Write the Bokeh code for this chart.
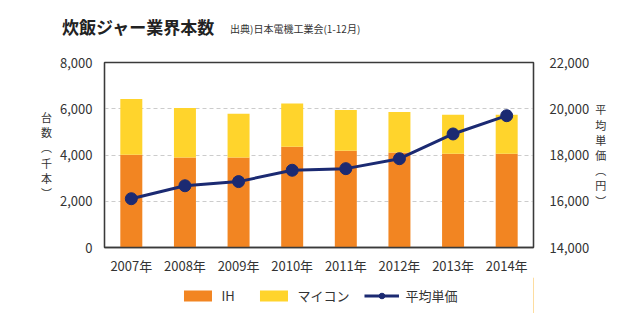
from bokeh.plotting import figure
from bokeh.layouts import column
from bokeh.models import (Range1d, LinearAxis, FixedTicker, Legend, LegendItem,
                          ColumnDataSource, NumeralTickFormatter, Div)
from bokeh.embed import file_html
from bokeh.resources import INLINE

TITLE = "炊飯ジャー業界本数"
SOURCE = "出典)日本電機工業会(1-12月)"
years = ["2007年", "2008年", "2009年", "2010年", "2011年", "2012年", "2013年", "2014年"]
ih = [4010, 3890, 3890, 4360, 4180, 4110, 4050, 4050]
total = [6420, 6030, 5780, 6230, 5950, 5860, 5740, 5740]
micom = [t - i for t, i in zip(total, ih)]
price = [16110, 16670, 16850, 17340, 17410, 17840, 18910, 19700]
left_ticks = [0, 2000, 4000, 6000, 8000]
right_ticks = [14000, 16000, 18000, 20000, 22000]
series_names = ["IH", "マイコン", "平均単価"]

FONT = "Noto Sans CJK JP"
ORANGE = "#F28522"
YELLOW = "#FFD42C"
NAVY = "#1B2A72"

W = 640
HEAD_H = 50
L, R = 104, 533
FRAME_H = 187
TOP, BOTTOM = 12, 28
FOOT_H = 36

# ---------- header (title + source) ----------
head_html = (
    f'<div style="position:relative;width:{W}px;height:{HEAD_H}px;font-family:\'{FONT}\';">'
    f'<span style="position:absolute;left:62px;top:15px;font-size:17px;font-weight:bold;'
    f'color:#222222;line-height:24px;white-space:nowrap;">{TITLE}</span>'
    f'<span style="position:absolute;left:230px;top:21px;font-size:10px;color:#333333;'
    f'line-height:16px;white-space:nowrap;">{SOURCE}</span></div>'
)
head = Div(text=head_html, width=W, height=HEAD_H, margin=0)

# ---------- main chart ----------
p = figure(x_range=years, y_range=Range1d(0, 8000), width=W, height=TOP + FRAME_H + BOTTOM,
           output_backend="svg", toolbar_location=None,
           min_border_left=L, min_border_right=W - R, min_border_top=TOP, min_border_bottom=BOTTOM)
p.extra_y_ranges = {"price": Range1d(14000, 22000)}

src = ColumnDataSource(dict(year=years, ih=ih, micom=micom))
p.vbar_stack(["ih", "micom"], x="year", width=0.41, color=[ORANGE, YELLOW],
             line_color=None, source=src)
p.line(years, price, y_range_name="price", color=NAVY, line_width=3)
p.scatter(years, price, y_range_name="price", size=12, color=NAVY)

lax = p.yaxis[0]
lax.ticker = FixedTicker(ticks=left_ticks)
lax.formatter = NumeralTickFormatter(format="0,0")
lax.major_label_standoff = 6
rax = LinearAxis(y_range_name="price", ticker=FixedTicker(ticks=right_ticks),
                 formatter=NumeralTickFormatter(format="0,0"))
rax.major_label_standoff = 10
p.add_layout(rax, "right")

for ax in [lax, rax, p.xaxis[0]]:
    ax.major_tick_line_color = None
    ax.minor_tick_line_color = None
    ax.axis_line_color = "#3a3a3a"
    ax.axis_line_width = 1.3
    ax.major_label_text_font = FONT
    ax.major_label_text_font_size = "13px"
    ax.major_label_text_color = "#333333"
    ax.axis_label_text_font = FONT
    ax.axis_label_text_font_size = "11px"
    ax.axis_label_text_font_style = "normal"
    ax.axis_label_text_color = "#333333"
    ax.axis_label_text_line_height = 0.95
p.xaxis.major_label_standoff = 2

lax.axis_label = "台\n数\n︵\n千\n本\n︶"
lax.axis_label_orientation = "horizontal"
lax.axis_label_standoff = 5
rax.axis_label = "平\n均\n単\n価\n︵\n円\n︶"
rax.axis_label_orientation = "horizontal"
rax.axis_label_standoff = 3

p.outline_line_color = "#3a3a3a"
p.outline_line_width = 1.3
p.xgrid.grid_line_color = None
p.ygrid.grid_line_color = "#cccccc"
p.ygrid.grid_line_dash = "4 3"
p.ygrid.ticker = FixedTicker(ticks=left_ticks[1:-1])

# ---------- footer (legend) ----------
foot = figure(width=W, height=FOOT_H, x_range=Range1d(0, 1), y_range=Range1d(0, 1),
              output_backend="svg", toolbar_location=None, x_axis_location=None,
              y_axis_location=None, min_border=0)
foot.outline_line_color = None
foot.grid.grid_line_color = None
# key renderers: one point each, far outside this footer's view, only so the legend has swatches
k_ih = foot.vbar(x=[ih[0]], top=[ih[0]], width=0.5, color=ORANGE, line_color=None)
k_mc = foot.vbar(x=[micom[0]], top=[micom[0]], width=0.5, color=YELLOW, line_color=None)
k_ln = foot.line(x=[price[0], price[1]], y=[price[0], price[1]], color=NAVY, line_width=3)
k_sc = foot.scatter(x=[price[0]], y=[price[0]], size=12, color=NAVY)
legend = Legend(items=[LegendItem(label=series_names[0], renderers=[k_ih]),
                       LegendItem(label=series_names[1], renderers=[k_mc]),
                       LegendItem(label=series_names[2], renderers=[k_ln, k_sc])],
                orientation="horizontal", location="center",
                glyph_width=35, glyph_height=14, label_standoff=7, spacing=14,
                label_text_font=FONT, label_text_font_size="13px", label_text_color="#333333",
                border_line_color=None, background_fill_alpha=0, padding=0, margin=0)
foot.add_layout(legend)

layout = column(head, p, foot, spacing=0)
open("out.html", "w").write(file_html(layout, INLINE))
